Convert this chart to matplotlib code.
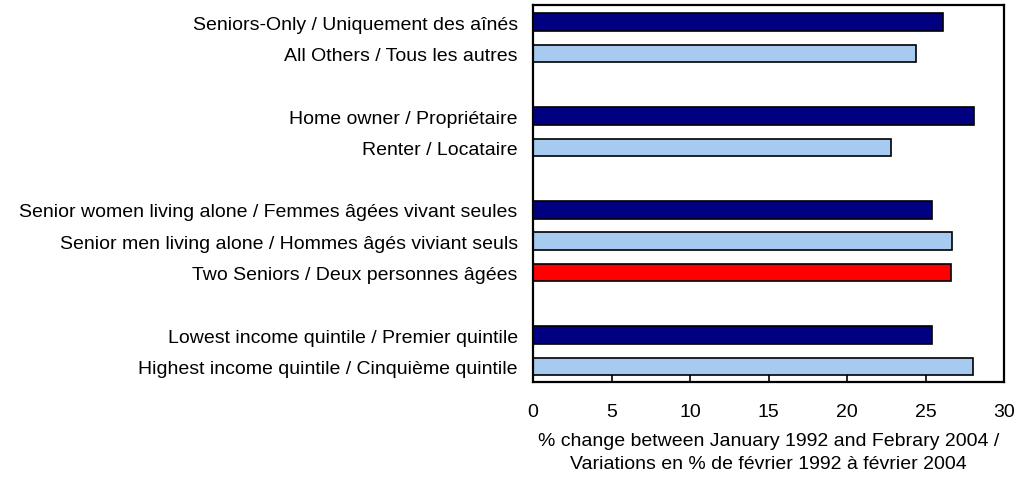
import matplotlib
matplotlib.use("Agg")
import matplotlib.pyplot as plt

### Data ###
labels = [
    "Seniors-Only / Uniquement des aînés",
    "All Others / Tous les autres",
    "",
    "Home owner / Propriétaire",
    "Renter / Locataire",
    "",
    "Senior women living alone / Femmes âgées vivant seules",
    "Senior men living alone / Hommes âgés viviant seuls",
    "Two Seniors / Deux personnes âgées",
    "",
    "Lowest income quintile / Premier quintile",
    "Highest income quintile / Cinquième quintile",
]
values = [26.1, 24.4, None, 28.1, 22.8, None, 25.4, 26.7, 26.6, None, 25.4, 28.0]
kinds = ["dark", "light", None, "dark", "light", None, "dark", "light", "red", None, "dark", "light"]
xticks = [0, 5, 10, 15, 20, 25, 30]

colours = {"dark": "#000080", "light": "#A6CAF0", "red": "#FF0000"}
font = ["Liberation Sans", "DejaVu Sans"]

### Plot ###
fig = plt.figure(figsize=(10.16, 4.81), dpi=100)
ax = fig.add_axes([533/1016, 1 - 383/481, 471/1016, 377/481])

for i, (v, k) in enumerate(zip(values, kinds)):
    if v is None:
        continue
    ax.barh(i, v, height=0.56, color=colours[k], edgecolor="black", linewidth=1.2)

ax.set_xlim(0, 30)
ax.set_ylim(11.5, -0.55)
ax.set_xticks(xticks)
ax.set_xticklabels([str(t) for t in xticks], fontsize=14, family=font)
ax.set_yticks(range(len(labels)))
ax.set_yticklabels(labels, fontsize=14, family=font)
ax.tick_params(axis="y", length=0, pad=11)
ax.tick_params(axis="x", direction="in", length=5, width=1.2, pad=15)
for s in ax.spines.values():
    s.set_linewidth(1.6)

ax.set_xlabel("% change between January 1992 and Febrary 2004 /\nVariations en % de février 1992 à février 2004",
              fontsize=14, family=font, labelpad=9, linespacing=1.45)

fig.savefig("out.png", dpi=100)
